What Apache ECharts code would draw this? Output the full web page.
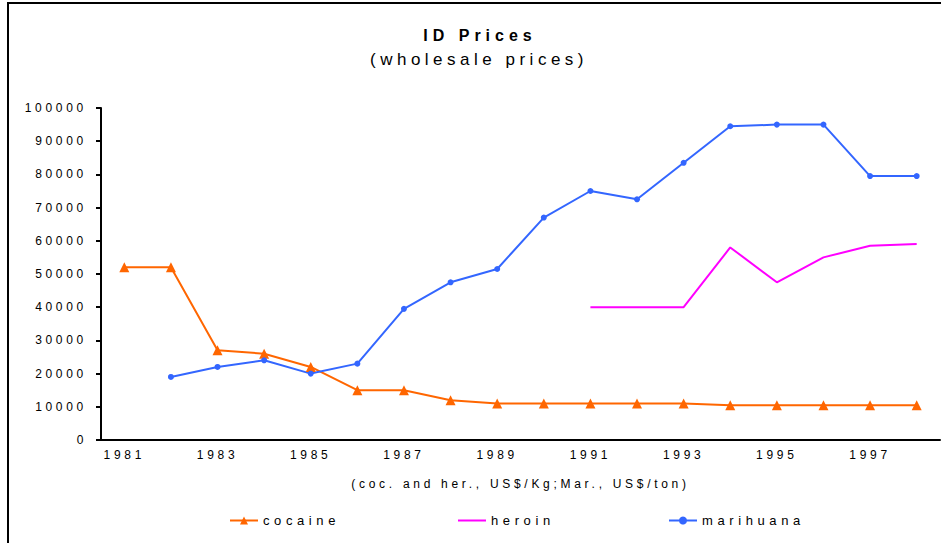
<!DOCTYPE html>
<html>
<head>
<meta charset="utf-8">
<script src="https://cdn.jsdelivr.net/npm/echarts@6/dist/echarts.min.js"></script>
<style>
  html, body { margin: 0; padding: 0; background: #fff; }
  #main { width: 941px; height: 543px; }
  /* wide tracking like the original sheet */
  #main text { letter-spacing: 3.7px; }
  #main text[style*="16px"] { letter-spacing: 5px; }
  #main text[style*="17px"] { letter-spacing: 4.5px; }
  #main text[style*="13px"] { letter-spacing: 4.6px; }
</style>
</head>
<body>
<div id="main"></div>
<script>
// data
var years = ['1981','1982','1983','1984','1985','1986','1987','1988','1989',
             '1990','1991','1992','1993','1994','1995','1996','1997','1998'];
var cocaine = [52000, 52000, 27000, 26000, 22000, 15000, 15000, 12000, 11000,
               11000, 11000, 11000, 11000, 10500, 10500, 10500, 10500, 10500];
var heroin = [null, null, null, null, null, null, null, null, null,
              null, 40000, 40000, 40000, 58000, 47500, 55000, 58500, 59000];
var marihuana = [null, 19000, 22000, 24000, 20000, 23000, 39500, 47500, 51500,
                 67000, 75000, 72500, 83500, 94500, 95000, 95000, 79500, 79500];

var font = 'Liberation Sans, Arial, sans-serif';

const Chart = echarts.init(document.getElementById('main'), null, {
    renderer: 'svg' // svg so css tracking works on the texts
});

var option = {
    animation: false,
    backgroundColor: '#fff',
    graphic: [
        { // frame
            type: 'rect',
            shape: { x: 8, y: 3, width: 1000, height: 1000 },
            style: { fill: 'none', stroke: '#000', lineWidth: 2 },
            silent: true
        },
        {
            type: 'text', x: 480, y: 35,
            style: { text: 'ID Prices', font: 'bold 16px ' + font, fill: '#000', align: 'center', verticalAlign: 'middle' }
        },
        {
            type: 'text', x: 479, y: 59,
            style: { text: '(wholesale prices)', font: '17px ' + font, fill: '#000', align: 'center', verticalAlign: 'middle' }
        }
    ],
    grid: { left: 101, right: 1, top: 108, bottom: 103, containLabel: false },
    legend: [
        { data: ['cocaine'], left: 229, top: 514 },
        { data: ['heroin'], left: 457, top: 514, itemStyle: { opacity: 0 } },
        { data: ['marihuana'], left: 668, top: 514 }
    ].map(function (l) {
        l.itemWidth = 28;
        l.itemHeight = 10;
        l.padding = 0;
        l.textStyle = { fontSize: 13, fontFamily: font, color: '#000' };
        return l;
    }),
    xAxis: {
        type: 'category',
        data: years,
        boundaryGap: true,
        name: '(coc. and her., US$/Kg;Mar., US$/ton)',
        nameLocation: 'middle',
        nameGap: 38,
        nameTextStyle: { fontSize: 12, fontFamily: font, color: '#000' },
        axisLine: { lineStyle: { color: '#000', width: 2 } },
        axisTick: { interval: 0, length: 5, lineStyle: { color: '#000', width: 2 } },
        axisLabel: { interval: 1, margin: 9, fontSize: 12, fontFamily: font, color: '#000' },
        splitLine: { show: false }
    },
    yAxis: {
        type: 'value',
        min: 0,
        max: 100000,
        interval: 10000,
        axisLine: { show: true, lineStyle: { color: '#000', width: 2 } },
        axisTick: { show: true, length: 5, lineStyle: { color: '#000', width: 2 } },
        axisLabel: {
            margin: 14, fontSize: 12, fontFamily: font, color: '#000',
            formatter: function (v) { return String(v); } // no thousand separators
        },
        splitLine: { show: false }
    },
    series: [
        {
            name: 'cocaine', type: 'line', data: cocaine,
            color: '#FF6600',
            symbol: 'triangle', symbolSize: 10, showAllSymbol: true,
            lineStyle: { width: 2 }
        },
        {
            name: 'heroin', type: 'line', data: heroin,
            color: '#FF00FF',
            symbol: 'none',
            lineStyle: { width: 2 }
        },
        {
            name: 'marihuana', type: 'line', data: marihuana,
            color: '#3366FF',
            symbol: 'circle', symbolSize: 6, showAllSymbol: true,
            lineStyle: { width: 2 }
        }
    ]
};

Chart.setOption(option, true);
</script>
</body>
</html>
